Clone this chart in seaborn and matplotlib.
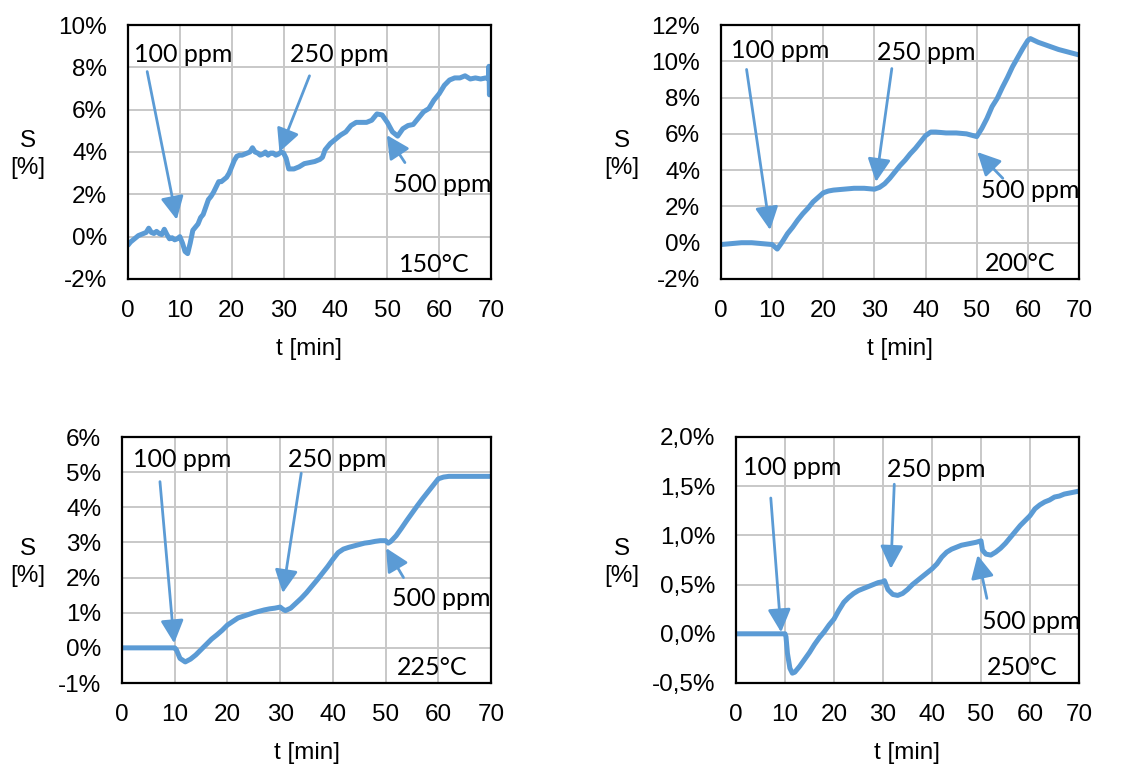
import numpy as np
import pandas as pd
import matplotlib
matplotlib.use("Agg")
import matplotlib.pyplot as plt
from matplotlib.ticker import FuncFormatter
import seaborn as sns

# ---------------- data ----------------
t_150 = [0, 0.5, 1, 1.5, 2, 2.5, 3, 3.5, 4, 4.5, 5, 5.5, 6, 6.5, 7, 7.5, 8, 8.5, 9, 9.5, 10, 10.5, 11, 11.5,
         12, 12.5, 13, 13.5, 14, 14.5, 15, 15.5, 16, 16.5, 17, 17.5, 18, 18.5, 19, 19.5, 20, 20.5, 21, 21.5, 22,
         22.5, 23, 23.5, 24, 24.5, 25, 25.5, 26, 26.5, 27, 27.5, 28, 28.5, 29, 29.5, 30, 30.5, 31, 32,
         33, 34, 35, 36, 37, 37.5, 38, 39, 40, 41, 42, 43, 44, 45, 46, 47, 48, 49, 50, 51, 52, 53, 54, 55, 56,
         57, 58, 59, 60, 61, 62, 63, 64, 65, 66, 67, 68, 69, 69.5, 69.6, 69.7, 69.8, 70]
s_150 = [-0.4, -0.25, -0.15, -0.05, 0.05, 0.1, 0.15, 0.2, 0.4, 0.2, 0.15, 0.25, 0.15, 0.1, 0.35, 0.1, -0.1, -0.05, -0.15, -0.1, 0.0, -0.3, -0.7, -0.8,
         -0.3, 0.3, 0.45, 0.6, 0.9, 1.05, 1.4, 1.75, 1.9, 2.1, 2.35, 2.6, 2.6, 2.7, 2.8, 3.0, 3.3, 3.6, 3.8, 3.85, 3.85,
         3.9, 3.95, 4.0, 4.2, 4.0, 3.95, 3.85, 3.9, 4.0, 3.85, 3.95, 3.95, 3.85, 3.9, 4.0, 3.95, 3.7, 3.2, 3.2,
         3.3, 3.45, 3.5, 3.55, 3.65, 3.75, 4.1, 4.4, 4.6, 4.8, 4.95, 5.25, 5.4, 5.4, 5.4, 5.5, 5.8, 5.75, 5.4, 4.95, 4.75, 5.1, 5.25, 5.3, 5.6,
         5.9, 6.05, 6.45, 6.75, 7.15, 7.4, 7.5, 7.5, 7.6, 7.45, 7.5, 7.45, 7.5, 7.45, 8.05, 6.7, 7.9, 7.4]

t_200 = [0, 2, 4, 6, 8, 10, 11, 12, 13, 14, 15, 16, 17, 18, 19, 20, 21, 22, 24, 26, 28, 30, 31, 32, 33, 34, 35,
         36, 37, 38, 39, 40, 41, 42, 44, 46, 48, 50, 51, 52, 53, 54, 55, 56, 57, 58, 59, 60, 60.5, 62, 64, 66, 68, 70]
s_200 = [-0.1, -0.05, 0.0, 0.0, -0.05, -0.1, -0.35, 0.05, 0.5, 0.85, 1.25, 1.6, 1.9, 2.25, 2.5, 2.75, 2.85, 2.9, 2.95, 3.0, 3.0, 2.95, 3.05, 3.25, 3.55, 3.9, 4.25,
         4.55, 4.9, 5.2, 5.55, 5.9, 6.1, 6.1, 6.05, 6.05, 6.0, 5.85, 6.3, 6.85, 7.5, 7.95, 8.55, 9.1, 9.7, 10.2, 10.7, 11.15, 11.25, 11.05, 10.85, 10.65, 10.5, 10.35]

t_225 = [0, 5, 10, 10.3, 11, 12, 13, 14, 15, 16, 17, 18, 19, 20, 21, 22, 23, 24, 25, 26, 27, 28, 29, 30, 30.5, 31,
         32, 33, 34, 35, 36, 37, 38, 39, 40, 41, 42, 43, 44, 45, 46, 47, 48, 49, 50, 50.5, 51, 52, 53, 54, 55, 56,
         57, 58, 59, 60, 61, 62, 66, 70]
s_225 = [0.0, 0.0, 0.0, -0.05, -0.3, -0.4, -0.32, -0.2, -0.05, 0.1, 0.25, 0.37, 0.5, 0.65, 0.75, 0.85, 0.9, 0.95, 1.0, 1.04, 1.08, 1.11, 1.13, 1.16, 1.1, 1.06,
         1.13, 1.27, 1.41, 1.57, 1.75, 1.93, 2.12, 2.31, 2.52, 2.71, 2.81, 2.86, 2.9, 2.94, 2.98, 3.0, 3.03, 3.05, 3.05, 2.98, 3.03, 3.19, 3.4, 3.62, 3.83, 4.04,
         4.24, 4.43, 4.62, 4.81, 4.86, 4.88, 4.88, 4.88]

t_250 = [0, 5, 10, 10.2, 10.5, 11, 11.5, 12, 13, 14, 15, 16, 17, 18, 19, 20, 21, 22, 23, 24, 25, 26, 27, 28, 29, 30,
         30.3, 31, 32, 33, 34, 35, 36, 37, 38, 39, 40, 41, 42, 43, 44, 45, 46, 47, 48, 49, 50, 50.3, 51, 52, 53, 54,
         55, 56, 57, 58, 59, 60, 61, 62, 63, 64, 65, 66, 67, 68, 69, 70]
s_250 = [0.0, 0.0, 0.0, -0.03, -0.2, -0.35, -0.4, -0.39, -0.33, -0.26, -0.19, -0.11, -0.04, 0.02, 0.09, 0.15, 0.24, 0.32, 0.37, 0.41, 0.44, 0.46, 0.48, 0.5, 0.52, 0.53,
         0.54, 0.45, 0.4, 0.39, 0.41, 0.45, 0.5, 0.54, 0.58, 0.62, 0.66, 0.71, 0.78, 0.83, 0.86, 0.88, 0.9, 0.91, 0.92, 0.93, 0.945, 0.85, 0.81, 0.8, 0.83, 0.87,
         0.92, 0.98, 1.04, 1.1, 1.15, 1.2, 1.27, 1.31, 1.34, 1.36, 1.39, 1.4, 1.42, 1.43, 1.44, 1.45]

temps = ["150°C", "200°C", "225°C", "250°C"]
x_ticks = [0, 10, 20, 30, 40, 50, 60, 70]
y_ticks_150 = [-2, 0, 2, 4, 6, 8, 10]
y_ticks_200 = [-2, 0, 2, 4, 6, 8, 10, 12]
y_ticks_225 = [-1, 0, 1, 2, 3, 4, 5, 6]
y_ticks_250 = [-0.5, 0.0, 0.5, 1.0, 1.5, 2.0]
labels_ppm = ["100 ppm", "250 ppm", "500 ppm"]

# annotation anchors (text position, arrow tail, arrow head) in data units
ann_150 = [((1.1, 8.6), (3.7, 7.8), (9.4, 0.8)),
           ((31.2, 8.6), (35.0, 7.6), (29.2, 4.0)),
           ((51.1, 2.45), (53.4, 3.5), (49.9, 4.8))]
ann_200 = [((2.0, 10.6), (5.0, 9.55), (9.6, 0.7)),
           ((30.6, 10.5), (33.4, 9.6), (30.3, 3.35)),
           ((50.8, 2.9), (55.1, 3.55), (50.1, 5.0))]
ann_225 = [((2.15, 5.37), (7.2, 4.73), (9.9, 0.13)),
           ((31.4, 5.37), (34.0, 4.97), (30.5, 1.56)),
           ((51.3, 1.4), (53.4, 2.0), (50.1, 2.84))]
ann_250 = [((1.36, 1.69), (7.1, 1.38), (9.2, 0.015)),
           ((30.9, 1.67), (32.3, 1.52), (31.6, 0.66)),
           ((50.2, 0.125), (51.2, 0.36), (49.3, 0.8))]
temp_pos = [(52.2, -1.3), (51.5, -1.15), (52.2, -0.55), (51.2, -0.34)]

# ---------------- style ----------------
sns.set_theme(style="whitegrid")
plt.rcParams['font.family'] = ['Liberation Sans', 'DejaVu Sans']

BLUE = "#5B9BD5"
fig = plt.figure(figsize=(11.38, 7.68), dpi=100)

W, H = 1138, 768
boxes = [(128, 25, 491, 279), (721, 25, 1079, 279), (122, 437, 491, 683), (736, 437, 1079, 683)]
series = [(t_150, s_150), (t_200, s_200), (t_225, s_225), (t_250, s_250)]
yticks = [y_ticks_150, y_ticks_200, y_ticks_225, y_ticks_250]
anns = [ann_150, ann_200, ann_225, ann_250]
ylab_dx = [100, 99, 94, 114]

def fmt_int(v, pos):
    return f"{v:.0f}%"

def fmt_dec(v, pos):
    return f"{v:.1f}%".replace(".", ",")

for i in range(4):
    l, tp, r, b = boxes[i]
    ax = fig.add_axes([l / W, 1 - b / H, (r - l) / W, (b - tp) / H])
    t, s = series[i]
    df = pd.DataFrame({"t": t, "S": s})
    sns.lineplot(data=df, x="t", y="S", ax=ax, color=BLUE, linewidth=3.6,
                 estimator=None, sort=False)
    ax.set_xlim(0, 70)
    yt = yticks[i]
    ax.set_ylim(yt[0], yt[-1])
    ax.set_xticks(x_ticks)
    ax.set_yticks(yt)
    ax.yaxis.set_major_formatter(FuncFormatter(fmt_dec if i == 3 else fmt_int))
    ax.grid(True, color="#C8C8C8", linewidth=1.4)
    ax.set_axisbelow(True)
    for sp in ax.spines.values():
        sp.set_color("black")
        sp.set_linewidth(1.6)
        sp.set_visible(True)
    ax.set_facecolor("white")
    ax.tick_params(axis="both", length=0, labelsize=17.5, colors="black", pad=15)
    ax.set_xlabel("t [min]", fontsize=17.5, color="black", labelpad=12)
    ax.set_ylabel("S\n[%]", fontsize=17.5, color="black", rotation=0,
                  ha="center", va="center", linespacing=1.25)
    ax.yaxis.set_label_coords(-ylab_dx[i] / (r - l), 0.49)

    for (txt_xy, tail, head), lab in zip(anns[i], labels_ppm):
        ax.text(txt_xy[0], txt_xy[1], lab, fontsize=18, family=["Lato", "DejaVu Sans"],
                ha="left", va="center", color="black")
        ax.annotate("", xy=head, xytext=tail,
                    arrowprops=dict(arrowstyle="-|>,head_length=0.7,head_width=0.35",
                                    color=BLUE, lw=2.0, mutation_scale=20,
                                    shrinkA=0, shrinkB=0))
    ax.text(temp_pos[i][0], temp_pos[i][1], temps[i], fontsize=18,
            family=["Lato", "DejaVu Sans"], ha="left", va="center", color="black")

fig.savefig("out.png", dpi=100, facecolor="white")
